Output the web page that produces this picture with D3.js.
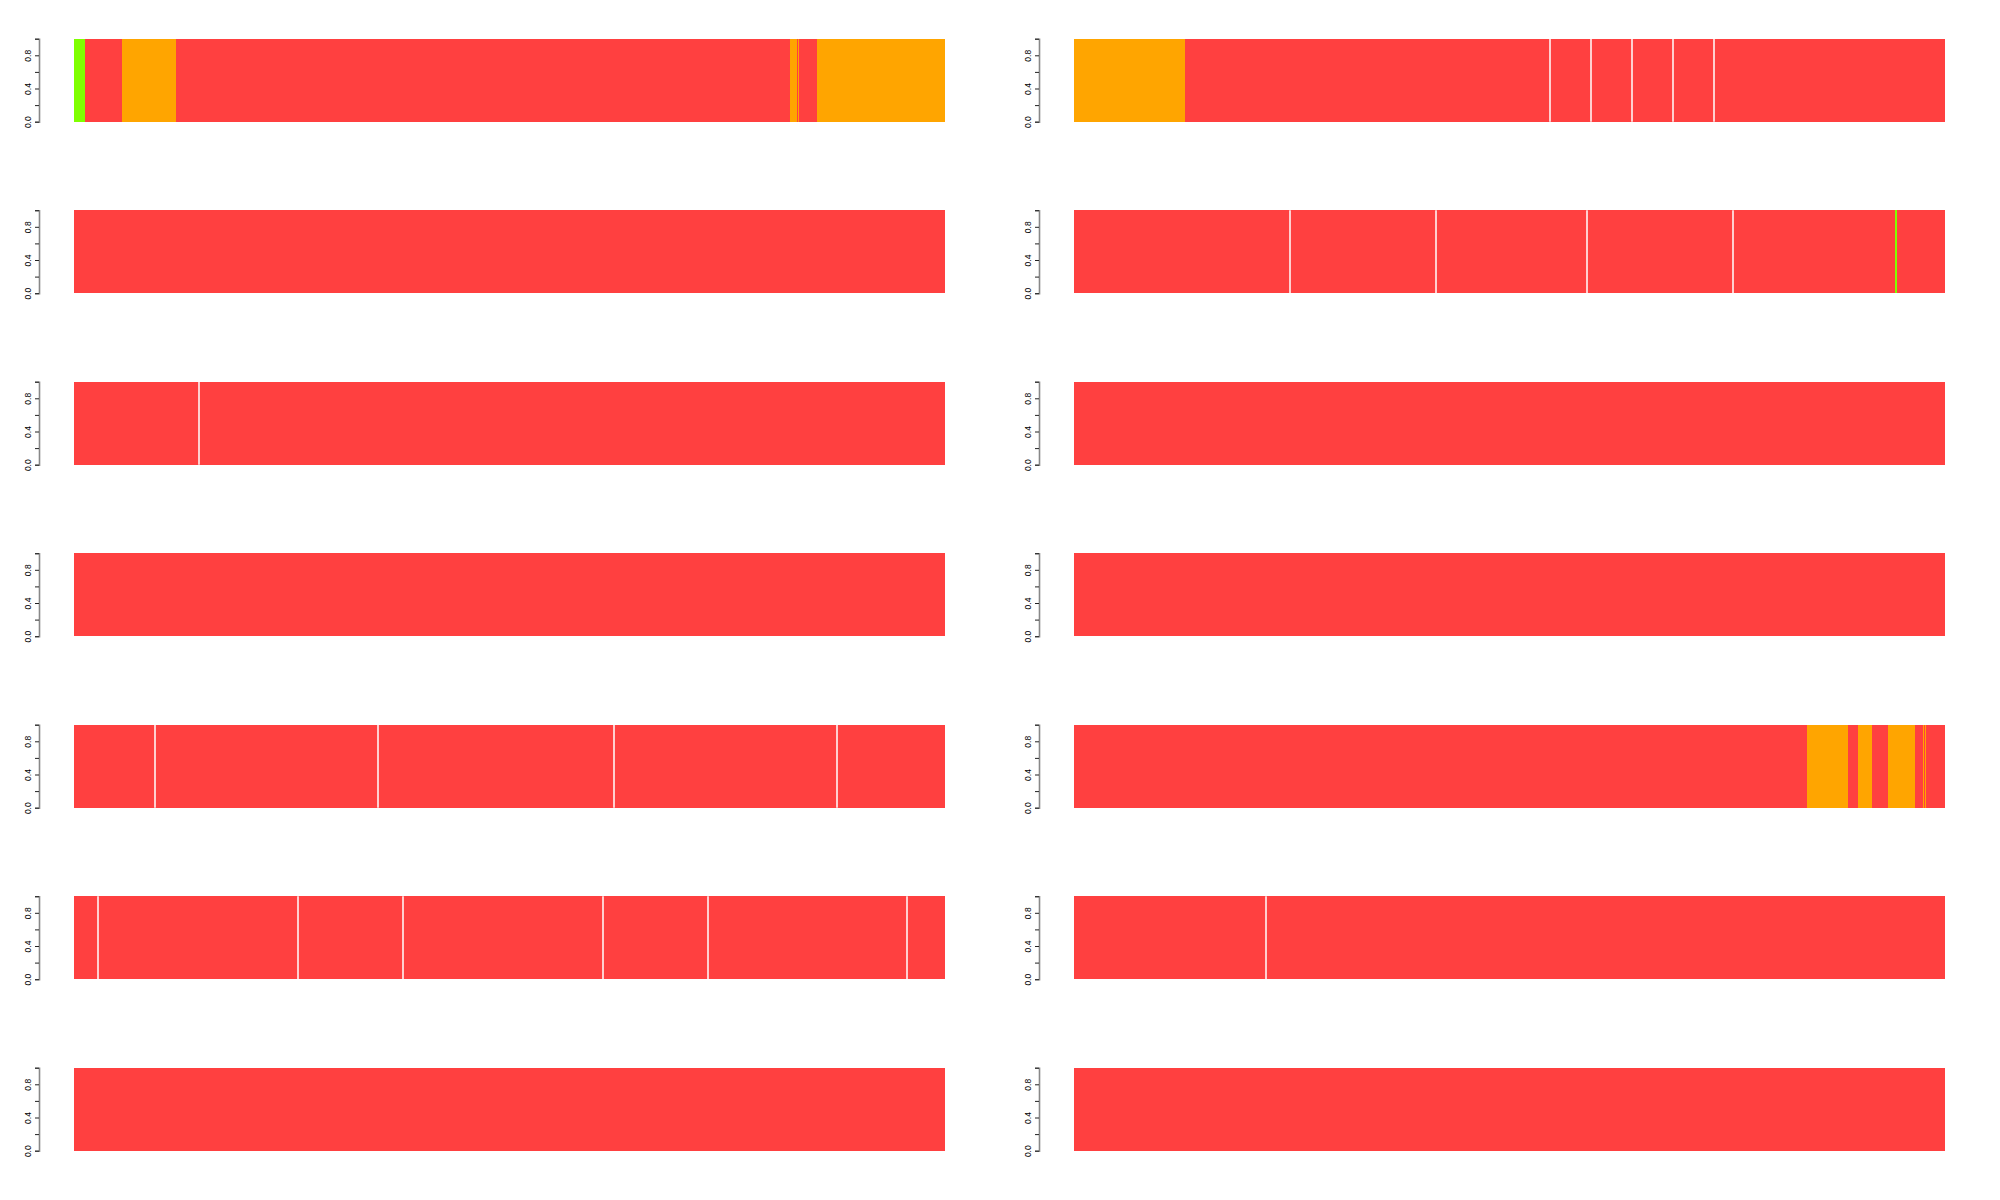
<!DOCTYPE html>
<html>
<head>
<meta charset="utf-8">
<script src="https://cdn.jsdelivr.net/npm/d3@7"></script>
<style>
  html, body { margin: 0; padding: 0; background: #fff; }
  svg { display: block; }
</style>
</head>
<body>
<script>
// Cluster colours (K = 3)
const clusterColors = ["#FF4040", "#FFA500", "#7FFF00"]; // 0 red, 1 orange, 2 green

// Each panel: list of groups (separated by white lines), each group a list of [cluster, count]
const panel1  = [[[2, 11], [0, 37], [1, 54], [0, 614], [1, 7], [0, 1], [1, 1], [0, 18], [1, 128]]];
const panel2  = [[[1, 111], [0, 365]], [[0, 41]], [[0, 41]], [[0, 41]], [[0, 41]], [[0, 231]]];
const panel3  = [[[0, 871]]];
const panel4  = [[[0, 216]], [[0, 146]], [[0, 151]], [[0, 146]], [[0, 162], [2, 2], [0, 48]]];
const panel5  = [[[0, 125]], [[0, 746]]];
const panel6  = [[[0, 871]]];
const panel7  = [[[0, 871]]];
const panel8  = [[[0, 871]]];
const panel9  = [[[0, 81]], [[0, 223]], [[0, 236]], [[0, 223]], [[0, 108]]];
const panel10 = [[[0, 733], [1, 41], [0, 10], [1, 14], [0, 16], [1, 27], [0, 8], [1, 1], [0, 1], [1, 1], [0, 19]]];
const panel11 = [[[0, 24]], [[0, 200]], [[0, 105]], [[0, 200]], [[0, 105]], [[0, 199]], [[0, 38]]];
const panel12 = [[[0, 192]], [[0, 679]]];
const panel13 = [[[0, 871]]];
const panel14 = [[[0, 871]]];

const panels = [panel1, panel2, panel3, panel4, panel5, panel6, panel7,
                panel8, panel9, panel10, panel11, panel12, panel13, panel14];

const yTickValues = [0, 0.2, 0.4, 0.6, 0.8, 1.0];
const yTickLabels = ["0.0", "0.4", "0.8"];

const W = 2000, H = 1200;
const svg = d3.select("body").append("svg").attr("width", W).attr("height", H);

const colX = [74, 1074];
const plotW = 871;
const rowTop0 = 38.7, rowStep = 171.5, plotH = 83;

panels.forEach((groups, i) => {
  const col = i % 2, row = Math.floor(i / 2);
  const x0 = colX[col], y0 = rowTop0 + row * rowStep;

  const blocks = [];
  const seps = [];
  let pos = 0;
  groups.forEach((g, gi) => {
    if (gi > 0) seps.push(pos);
    g.forEach(([k, n]) => { blocks.push({k, start: pos, end: pos + n}); pos += n; });
  });
  const total = pos;

  const x = d3.scaleLinear().domain([0, total]).range([x0, x0 + plotW]);
  const y = d3.scaleLinear().domain([0, 1]).range([y0 + plotH, y0]);

  const g = svg.append("g");
  g.selectAll("rect").data(blocks).join("rect")
    .attr("x", d => x(d.start))
    .attr("width", d => x(d.end) - x(d.start))
    .attr("y", y(1))
    .attr("height", y(0) - y(1))
    .attr("fill", d => clusterColors[d.k])
    .attr("shape-rendering", "crispEdges");

  g.selectAll("line.sep").data(seps).join("line")
    .attr("class", "sep")
    .attr("x1", d => x(d)).attr("x2", d => x(d))
    .attr("y1", y(1)).attr("y2", y(0))
    .attr("stroke", "#fff").attr("stroke-width", 1.5);

  // y axis
  const axisX = x0 - 35;
  const axis = d3.axisLeft(y).tickValues(yTickValues).tickSize(4)
    .tickFormat(v => { const s = d3.format(".1f")(v); return yTickLabels.includes(s) ? s : ""; });
  const ag = svg.append("g").attr("transform", `translate(${axisX},0)`).call(axis);
  ag.select(".domain").attr("stroke", "#888").attr("stroke-width", 1.6);
  ag.selectAll(".tick line").attr("stroke", "#222");
  ag.selectAll(".tick text")
    .attr("font-family", "Liberation Sans, Arial, sans-serif")
    .attr("font-size", 8.5)
    .attr("fill", "#000")
    .attr("text-anchor", "middle")
    .attr("transform", "translate(-11,0) rotate(-90)")
    .attr("x", 0).attr("y", 0).attr("dy", "0.32em");
});
</script>
</body>
</html>
